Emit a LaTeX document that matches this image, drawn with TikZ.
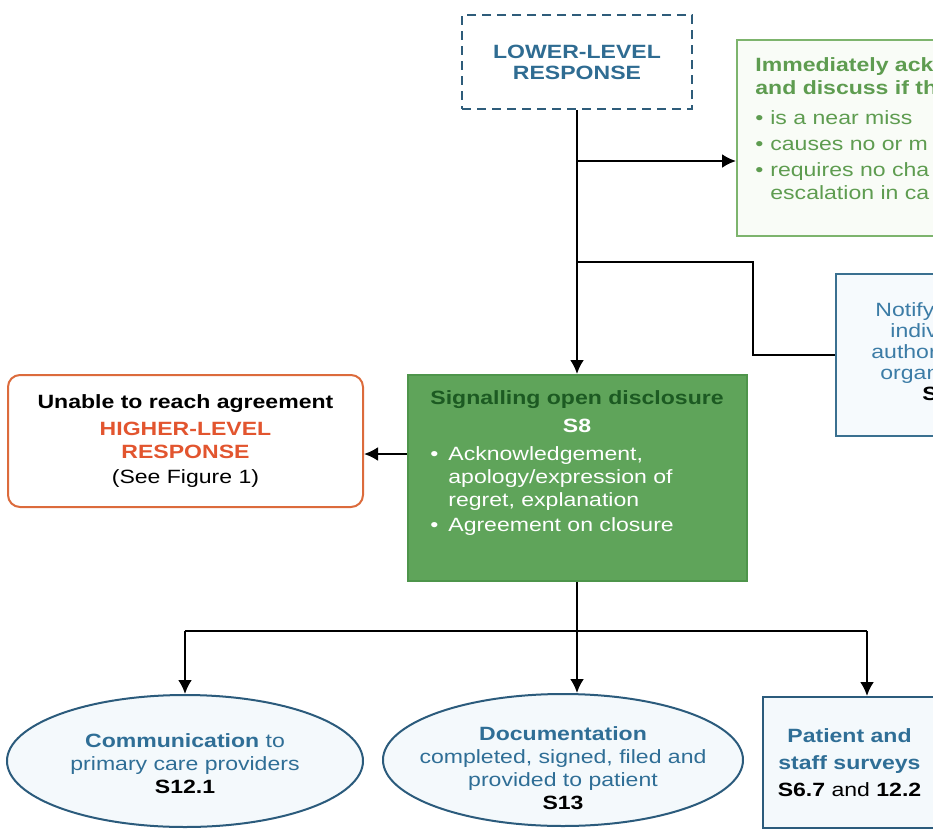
\documentclass[tikz,border=0pt]{standalone}
\usepackage{fontspec}
\setmainfont{Liberation Sans}[FakeStretch=1.2]
\usepackage{tikz}
\usetikzlibrary{arrows.meta,positioning,shapes.geometric}
\usepackage{xcolor}
\definecolor{lowline}{HTML}{2E5C7A}
\definecolor{lowtext}{HTML}{2F6C92}
\definecolor{ackline}{HTML}{7DB46D}
\definecolor{ackfill}{HTML}{F9FCF7}
\definecolor{acktext}{HTML}{5E9C50}
\definecolor{ntline}{HTML}{3A7090}
\definecolor{ntfill}{HTML}{F6FAFD}
\definecolor{nttext}{HTML}{3C7CA6}
\definecolor{sgfill}{HTML}{5FA45A}
\definecolor{sgline}{HTML}{4E954B}
\definecolor{sgtitle}{HTML}{1C5A22}
\definecolor{redline}{HTML}{DC6B3C}
\definecolor{hired}{HTML}{E2552F}
\definecolor{elline}{HTML}{2B5B7C}
\definecolor{elfill}{HTML}{F4F9FC}
\definecolor{eltext}{HTML}{2F6E96}
\newcommand{\dfont}{\fontsize{9.6}{11.5}\selectfont}

\begin{document}
\begin{tikzpicture}[
  x=0.5pt, y=-0.5pt,
  font=\dfont,
  box/.style={draw,line width=1pt,align=center,inner sep=0pt},
  ell/.style={ellipse,draw=elline,line width=1pt,fill=elfill,inner sep=0pt,minimum width=178pt,minimum height=66pt},
  txt/.style={inner sep=0pt,align=left},
  arr/.style={-{Latex[length=7pt,width=7pt]},line width=1.2pt},
  link/.style={line width=1.2pt}
]
\useasboundingbox (0,0) rectangle (933,831);
\clip (0,0) rectangle (933,831);

\node[box, dashed, dash pattern=on 4.5pt off 3pt, draw=lowline, text=lowtext, font=\dfont\bfseries,
  minimum width=115pt, minimum height=47pt] (lower) at (577,62) {LOWER-LEVEL\\[-1pt]RESPONSE};

\node[box, draw=ackline, fill=ackfill, minimum width=140pt, minimum height=98pt, anchor=north west] (ack) at (736,39) {};
\node[txt, text=acktext, anchor=north west] (acktxt) at (755,57) {%
  \textbf{Immediately ack}\\
  \textbf{and discuss if th}\\[3.5pt]
  \makebox[7.5pt][l]{\textbullet}is a near miss\\[1.5pt]
  \makebox[7.5pt][l]{\textbullet}causes no or m\\[1.5pt]
  \makebox[7.5pt][l]{\textbullet}requires no cha\\
  \hspace*{7.5pt}escalation in ca};

\node[box, draw=ntline, fill=ntfill, minimum width=80pt, minimum height=81pt, anchor=north west] (notify) at (835,273) {};
\node[txt, text=nttext, anchor=north west] (nttxt) at (871,302) {%
  \hspace*{2pt}Notify\\[-1pt]
  \hspace*{9.5pt}indiv\\[-1pt]
  author\\[-1pt]
  \hspace*{4.5pt}organ\\[-1pt]
  \hspace*{25.5pt}\textcolor{black}{\textbf{S}}};

\node[box, fill=sgfill, draw=sgline, minimum width=169.5pt, minimum height=103pt, anchor=north] (signal) at (577,374) {};
\node[txt, align=center, text=sgtitle, font=\dfont\bfseries] (sgtxt) at (577,400) {Signalling open disclosure};
\node[txt, align=center, text=white, font=\dfont\bfseries] (sgnum) at (577,426) {S8};
\node[txt, text=white, anchor=north west] (sglist) at (430,446) {%
  \makebox[9pt][l]{\textbullet}Acknowledgement,\\
  \hspace*{9pt}apology/expression of\\
  \hspace*{9pt}regret, explanation\\[1pt]
  \makebox[9pt][l]{\textbullet}Agreement on closure};

\node[box, rounded corners=6pt, draw=redline, minimum width=177.5pt, minimum height=66pt] (higher) at (185.5,441) {%
  \textbf{Unable to reach agreement}\\[2pt]
  \textcolor{hired}{\textbf{HIGHER-LEVEL}}\\
  \textcolor{hired}{\textbf{RESPONSE}}\\[1pt]
  (See Figure 1)};

\node[ell] (comm) at (185,761) {};
\node[txt, align=center, text=eltext] (commtxt) at (185,764) {\textbf{Communication} to\\primary care providers\\\textcolor{black}{\textbf{S12.1}}};
\node[ell, minimum width=180pt] (docu) at (563,760) {};
\node[txt, align=center, text=eltext] (docutxt) at (563,768) {\textbf{Documentation}\\completed, signed, filed and\\provided to patient\\\textcolor{black}{\textbf{S13}}};
\node[box, draw=elline, fill=elfill, text=eltext, minimum width=86.5pt, minimum height=65.5pt, anchor=north west] (survey) at (762,696) {%
  \textbf{Patient and}\\[2pt]
  \textbf{staff surveys}\\[2pt]
  \textcolor{black}{\textbf{S6.7} and \textbf{12.2}}};

\draw[arr] (lower.south) -- (lower.south |- signal.north);
\coordinate (j1) at (577,161);
\coordinate (j2) at (577,262);
\draw[arr] (j1) -- (j1 -| ack.west);
\draw[link] (j2) -- ++(176,0) |- (notify.west);
\coordinate (hl) at ([yshift=12pt]signal.west);
\draw[arr] (hl) -- (hl -| higher.east);

\coordinate (bus) at (577,631);
\coordinate (busr) at (867,631);
\draw[link] (signal.south) -- (bus);
\draw[link] (bus -| comm.north) -- (busr);
\draw[arr] (bus -| comm.north) -- (comm.north);
\draw[arr] (bus) -- (bus |- docu.north);
\draw[arr] (busr) -- (busr |- survey.north);
\end{tikzpicture}
\end{document}
